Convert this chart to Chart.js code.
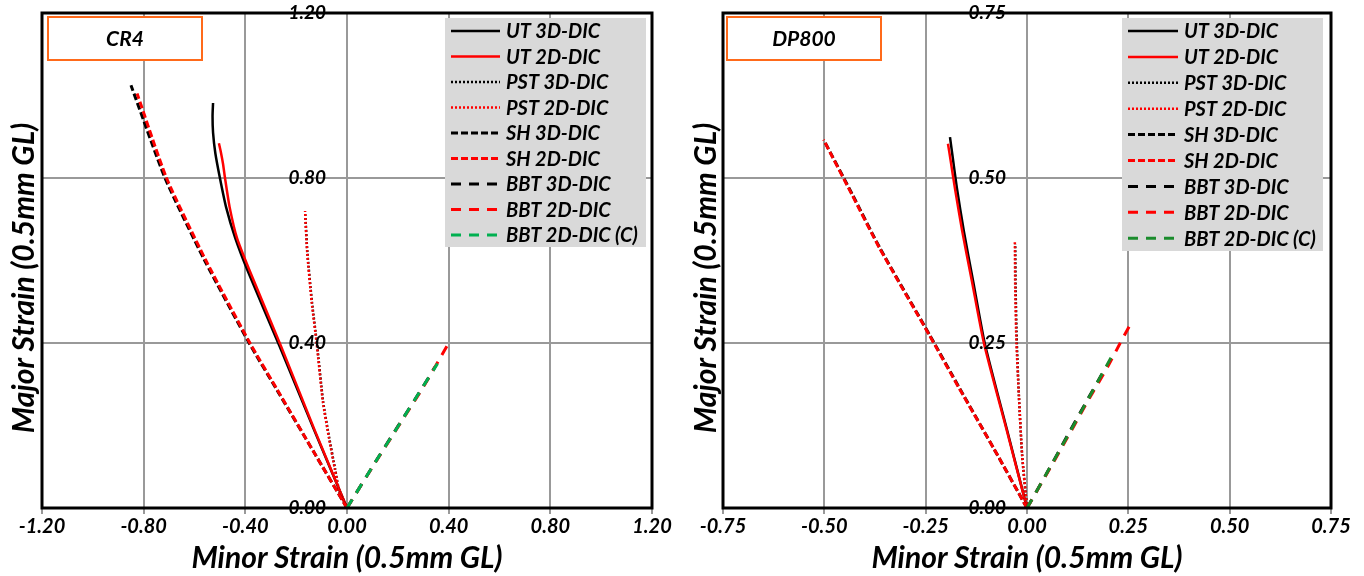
<!DOCTYPE html>
<html>
<head>
<meta charset="utf-8">
<title>Strain paths - CR4 / DP800</title>
<script src="https://cdn.jsdelivr.net/npm/chart.js@4.4.1/dist/chart.umd.min.js"></script>
<style>
    body { margin: 0; background: #fff; }
    .panel { position: absolute; top: 0; width: 682px; height: 576px; }
    #left { left: 0; }
    #right { left: 682px; }
</style>
</head>
<body>
<div class="panel" id="left"><canvas id="cr4" width="682" height="576"></canvas></div>
<div class="panel" id="right"><canvas id="dp800" width="682" height="576"></canvas></div>
<script>
// ============ DATA ============
// every path is a list of [minor, major] strain pairs
const seriesLabels = ['UT 3D-DIC', 'UT 2D-DIC', 'PST 3D-DIC', 'PST 2D-DIC', 'SH 3D-DIC', 'SH 2D-DIC', 'BBT 3D-DIC', 'BBT 2D-DIC', 'BBT 2D-DIC (C)'];

// CR4
const cr4Ut3d = [[0, 0], [-0.13, 0.19], [-0.264, 0.39], [-0.39, 0.574], [-0.44, 0.655], [-0.476, 0.73], [-0.50, 0.80], [-0.518, 0.86], [-0.527, 0.91], [-0.529, 0.95], [-0.527, 0.982]];
const cr4Ut2d = [[0, 0], [-0.128, 0.19], [-0.258, 0.39], [-0.382, 0.574], [-0.433, 0.655], [-0.462, 0.73], [-0.48, 0.80], [-0.488, 0.835], [-0.496, 0.862], [-0.504, 0.884]];
const cr4Pst3d = [[0, 0], [-0.03, 0.04], [-0.047, 0.095], [-0.07, 0.17], [-0.094, 0.258], [-0.118, 0.397], [-0.138, 0.50], [-0.156, 0.62], [-0.164, 0.712]];
const cr4Pst2d = [[0, 0], [-0.03, 0.04], [-0.048, 0.095], [-0.071, 0.17], [-0.095, 0.258], [-0.119, 0.397], [-0.139, 0.50], [-0.157, 0.623], [-0.165, 0.72]];
const cr4Sh3d = [[0, 0], [-0.13, 0.135], [-0.264, 0.274], [-0.385, 0.40], [-0.56, 0.60], [-0.716, 0.80], [-0.85, 1.025]];
const cr4Sh2d = [[0, 0], [-0.13, 0.135], [-0.262, 0.274], [-0.382, 0.40], [-0.555, 0.60], [-0.71, 0.80], [-0.826, 1.005]];
const cr4Bbt3d = [[0, 0], [0.1, 0.1], [0.2, 0.198], [0.3, 0.295], [0.346, 0.342]];
const cr4Bbt2d = [[0, 0], [0.1, 0.099], [0.2, 0.196], [0.3, 0.293], [0.393, 0.392]];
const cr4Bbt2dC = [[0, 0], [0.1, 0.1], [0.2, 0.197], [0.3, 0.295], [0.356, 0.35]];
const cr4XTicks = [-1.2, -0.8, -0.4, 0, 0.4, 0.8, 1.2];
const cr4YTicks = [0, 0.4, 0.8, 1.2];

// DP800
const dp800Ut3d = [[0, 0], [-0.05, 0.12], [-0.104, 0.249], [-0.133, 0.344], [-0.156, 0.42], [-0.173, 0.485], [-0.183, 0.53], [-0.19, 0.562]];
const dp800Ut2d = [[0, 0], [-0.051, 0.12], [-0.106, 0.249], [-0.136, 0.344], [-0.16, 0.42], [-0.178, 0.485], [-0.188, 0.525], [-0.195, 0.552]];
const dp800Pst3d = [[0, 0], [-0.012, 0.08], [-0.02, 0.17], [-0.025, 0.249], [-0.028, 0.33], [-0.029, 0.40]];
const dp800Pst2d = [[0, 0], [-0.012, 0.08], [-0.02, 0.17], [-0.026, 0.249], [-0.029, 0.33], [-0.03, 0.405]];
const dp800Sh3d = [[0, 0], [-0.08, 0.088], [-0.165, 0.18], [-0.24, 0.262], [-0.363, 0.394], [-0.43, 0.474], [-0.50, 0.556]];
const dp800Sh2d = [[0, 0], [-0.08, 0.088], [-0.166, 0.18], [-0.241, 0.262], [-0.364, 0.394], [-0.432, 0.475], [-0.502, 0.558]];
const dp800Bbt3d = [[0, 0], [0.05, 0.054], [0.1, 0.11], [0.15, 0.165], [0.185, 0.203]];
const dp800Bbt2d = [[0, 0], [0.05, 0.053], [0.1, 0.107], [0.15, 0.162], [0.2, 0.215], [0.23, 0.25], [0.252, 0.275]];
const dp800Bbt2dC = [[0, 0], [0.05, 0.054], [0.1, 0.109], [0.15, 0.164], [0.212, 0.233]];
const dp800XTicks = [-0.75, -0.5, -0.25, 0, 0.25, 0.5, 0.75];
const dp800YTicks = [0, 0.25, 0.5, 0.75];

// ============ STYLE ============
const FONT = 'Lato';
const GRID = '#999999';

// line look for each entry of seriesLabels (green differs per panel)
function seriesStyles(green) {
    return [
        { color: '#000000', dash: [], width: 2.5 },
        { color: '#ff0000', dash: [], width: 2.5 },
        { color: '#000000', dash: [2, 2], width: 2.5 },
        { color: '#ff0000', dash: [2, 2], width: 2.5 },
        { color: '#000000', dash: [7, 3], width: 3 },
        { color: '#ff0000', dash: [7, 3], width: 3 },
        { color: '#000000', dash: [10, 8], width: 3 },
        { color: '#ff0000', dash: [10, 8], width: 3 },
        { color: green, dash: [10, 8], width: 3 }
    ];
}

function fmt(v) {
    return (Math.abs(v) < 1e-9 ? 0 : v).toFixed(2);
}

// ============ DECORATION PLUGIN ============
// frame, y labels on the x = 0 line, y title, legend box and panel name
const strainDecor = {
    id: 'strainDecor',
    afterDraw(chart, args, opts) {
        const { ctx, chartArea: a, scales: { x, y } } = chart;
        ctx.save();

        // thick frame around the plot area
        ctx.strokeStyle = '#000';
        ctx.lineWidth = 3;
        ctx.strokeRect(a.left, a.top, a.right - a.left, a.bottom - a.top);

        // major strain labels sit next to the zero minor strain line
        const x0 = x.getPixelForValue(0);
        ctx.fillStyle = '#000';
        ctx.font = 'italic bold 19px ' + FONT;
        ctx.textAlign = 'right';
        ctx.textBaseline = 'middle';
        y.ticks.forEach(t => {
            ctx.fillText(fmt(t.value), x0 - 21, y.getPixelForValue(t.value));
        });

        // y title
        ctx.save();
        ctx.translate(opts.yTitleX, opts.yTitleY);
        ctx.rotate(-Math.PI / 2);
        ctx.textAlign = 'center';
        ctx.font = 'italic bold 30px ' + FONT;
        ctx.fillText('Major Strain (0.5mm GL)', 0, 0);
        ctx.restore();

        // legend
        const lg = opts.legend;
        ctx.fillStyle = '#d9d9d9';
        ctx.fillRect(lg.left, lg.top, lg.width, lg.height);
        ctx.font = 'italic bold 20px ' + FONT;
        ctx.textAlign = 'left';
        chart.data.datasets.forEach((ds, i) => {
            const cy = lg.top + lg.firstRow + i * lg.rowHeight;
            ctx.beginPath();
            ctx.setLineDash(ds.borderDash);
            ctx.strokeStyle = ds.borderColor;
            ctx.lineWidth = ds.borderWidth;
            ctx.moveTo(lg.left + 6, cy);
            ctx.lineTo(lg.left + 6 + lg.lineLength, cy);
            ctx.stroke();
            ctx.fillStyle = '#000';
            ctx.fillText(ds.label, lg.left + 12 + lg.lineLength, cy + 1);
        });
        ctx.setLineDash([]);

        // panel name box
        const nb = opts.nameBox;
        ctx.fillStyle = '#fff';
        ctx.fillRect(nb.left, nb.top, nb.width, nb.height);
        ctx.strokeStyle = '#ff6a1a';
        ctx.lineWidth = 2;
        ctx.strokeRect(nb.left, nb.top, nb.width, nb.height);
        ctx.fillStyle = '#000';
        ctx.textAlign = 'center';
        ctx.font = 'italic bold 21px ' + FONT;
        ctx.fillText(opts.name, nb.left + nb.width / 2, nb.top + nb.height / 2 + 1);

        ctx.restore();
    }
};

// ============ CHARTS ============
function buildChart(canvasId, name, paths, xTicks, yTicks, green, decor) {
    const styles = seriesStyles(green);
    const datasets = paths.map((path, i) => ({
        label: seriesLabels[i],
        data: path.map(([mx, my]) => ({ x: mx, y: my })),
        showLine: true,
        pointRadius: 0,
        borderColor: styles[i].color,
        backgroundColor: styles[i].color,
        borderDash: styles[i].dash,
        borderWidth: styles[i].width,
        tension: 0.2,
        // later series drawn on top
        order: paths.length - i
    }));

    return new Chart(document.getElementById(canvasId), {
        type: 'scatter',
        data: { datasets },
        options: {
            responsive: false,
            animation: false,
            events: [],
            layout: { padding: decor.padding },
            scales: {
                x: {
                    type: 'linear',
                    min: xTicks[0],
                    max: xTicks[xTicks.length - 1],
                    afterBuildTicks: s => { s.ticks = xTicks.map(v => ({ value: v })); },
                    ticks: {
                        callback: v => fmt(v),
                        color: '#000',
                        font: { family: FONT, size: 20, style: 'italic', weight: 'bold' },
                        padding: 1,
                        maxRotation: 0,
                        autoSkip: false
                    },
                    grid: { color: GRID, lineWidth: 2, tickLength: 6, tickColor: GRID },
                    border: { display: false },
                    title: {
                        display: true,
                        text: 'Minor Strain (0.5mm GL)',
                        color: '#000',
                        font: { family: FONT, size: 30, style: 'italic', weight: 'bold' },
                        padding: { top: 0, bottom: 0 }
                    }
                },
                y: {
                    type: 'linear',
                    min: yTicks[0],
                    max: yTicks[yTicks.length - 1],
                    afterBuildTicks: s => { s.ticks = yTicks.map(v => ({ value: v })); },
                    ticks: { display: false },
                    grid: { color: GRID, lineWidth: 2, drawTicks: false },
                    border: { display: false }
                }
            },
            plugins: {
                legend: { display: false },
                tooltip: { enabled: false },
                strainDecor: Object.assign({ name }, decor)
            }
        },
        plugins: [strainDecor]
    });
}

buildChart('cr4', 'CR4',
    [cr4Ut3d, cr4Ut2d, cr4Pst3d, cr4Pst2d, cr4Sh3d, cr4Sh2d, cr4Bbt3d, cr4Bbt2d, cr4Bbt2dC],
    cr4XTicks, cr4YTicks, '#00b050', {
        padding: { left: 42, right: 30, top: 13, bottom: 0 },
        yTitleX: 24, yTitleY: 278,
        legend: { left: 445, top: 18, width: 201, height: 229, firstRow: 13, rowHeight: 25.5, lineLength: 49 },
        nameBox: { left: 48, top: 17, width: 154, height: 43 }
    });

buildChart('dp800', 'DP800',
    [dp800Ut3d, dp800Ut2d, dp800Pst3d, dp800Pst2d, dp800Sh3d, dp800Sh2d, dp800Bbt3d, dp800Bbt2d, dp800Bbt2dC],
    dp800XTicks, dp800YTicks, '#1a8c2c', {
        padding: { left: 41, right: 33, top: 13, bottom: 0 },
        yTitleX: 24, yTitleY: 278,
        legend: { left: 440, top: 18, width: 201, height: 233, firstRow: 13, rowHeight: 25.9, lineLength: 50 },
        nameBox: { left: 45, top: 17, width: 154, height: 43 }
    });
</script>
</body>
</html>
